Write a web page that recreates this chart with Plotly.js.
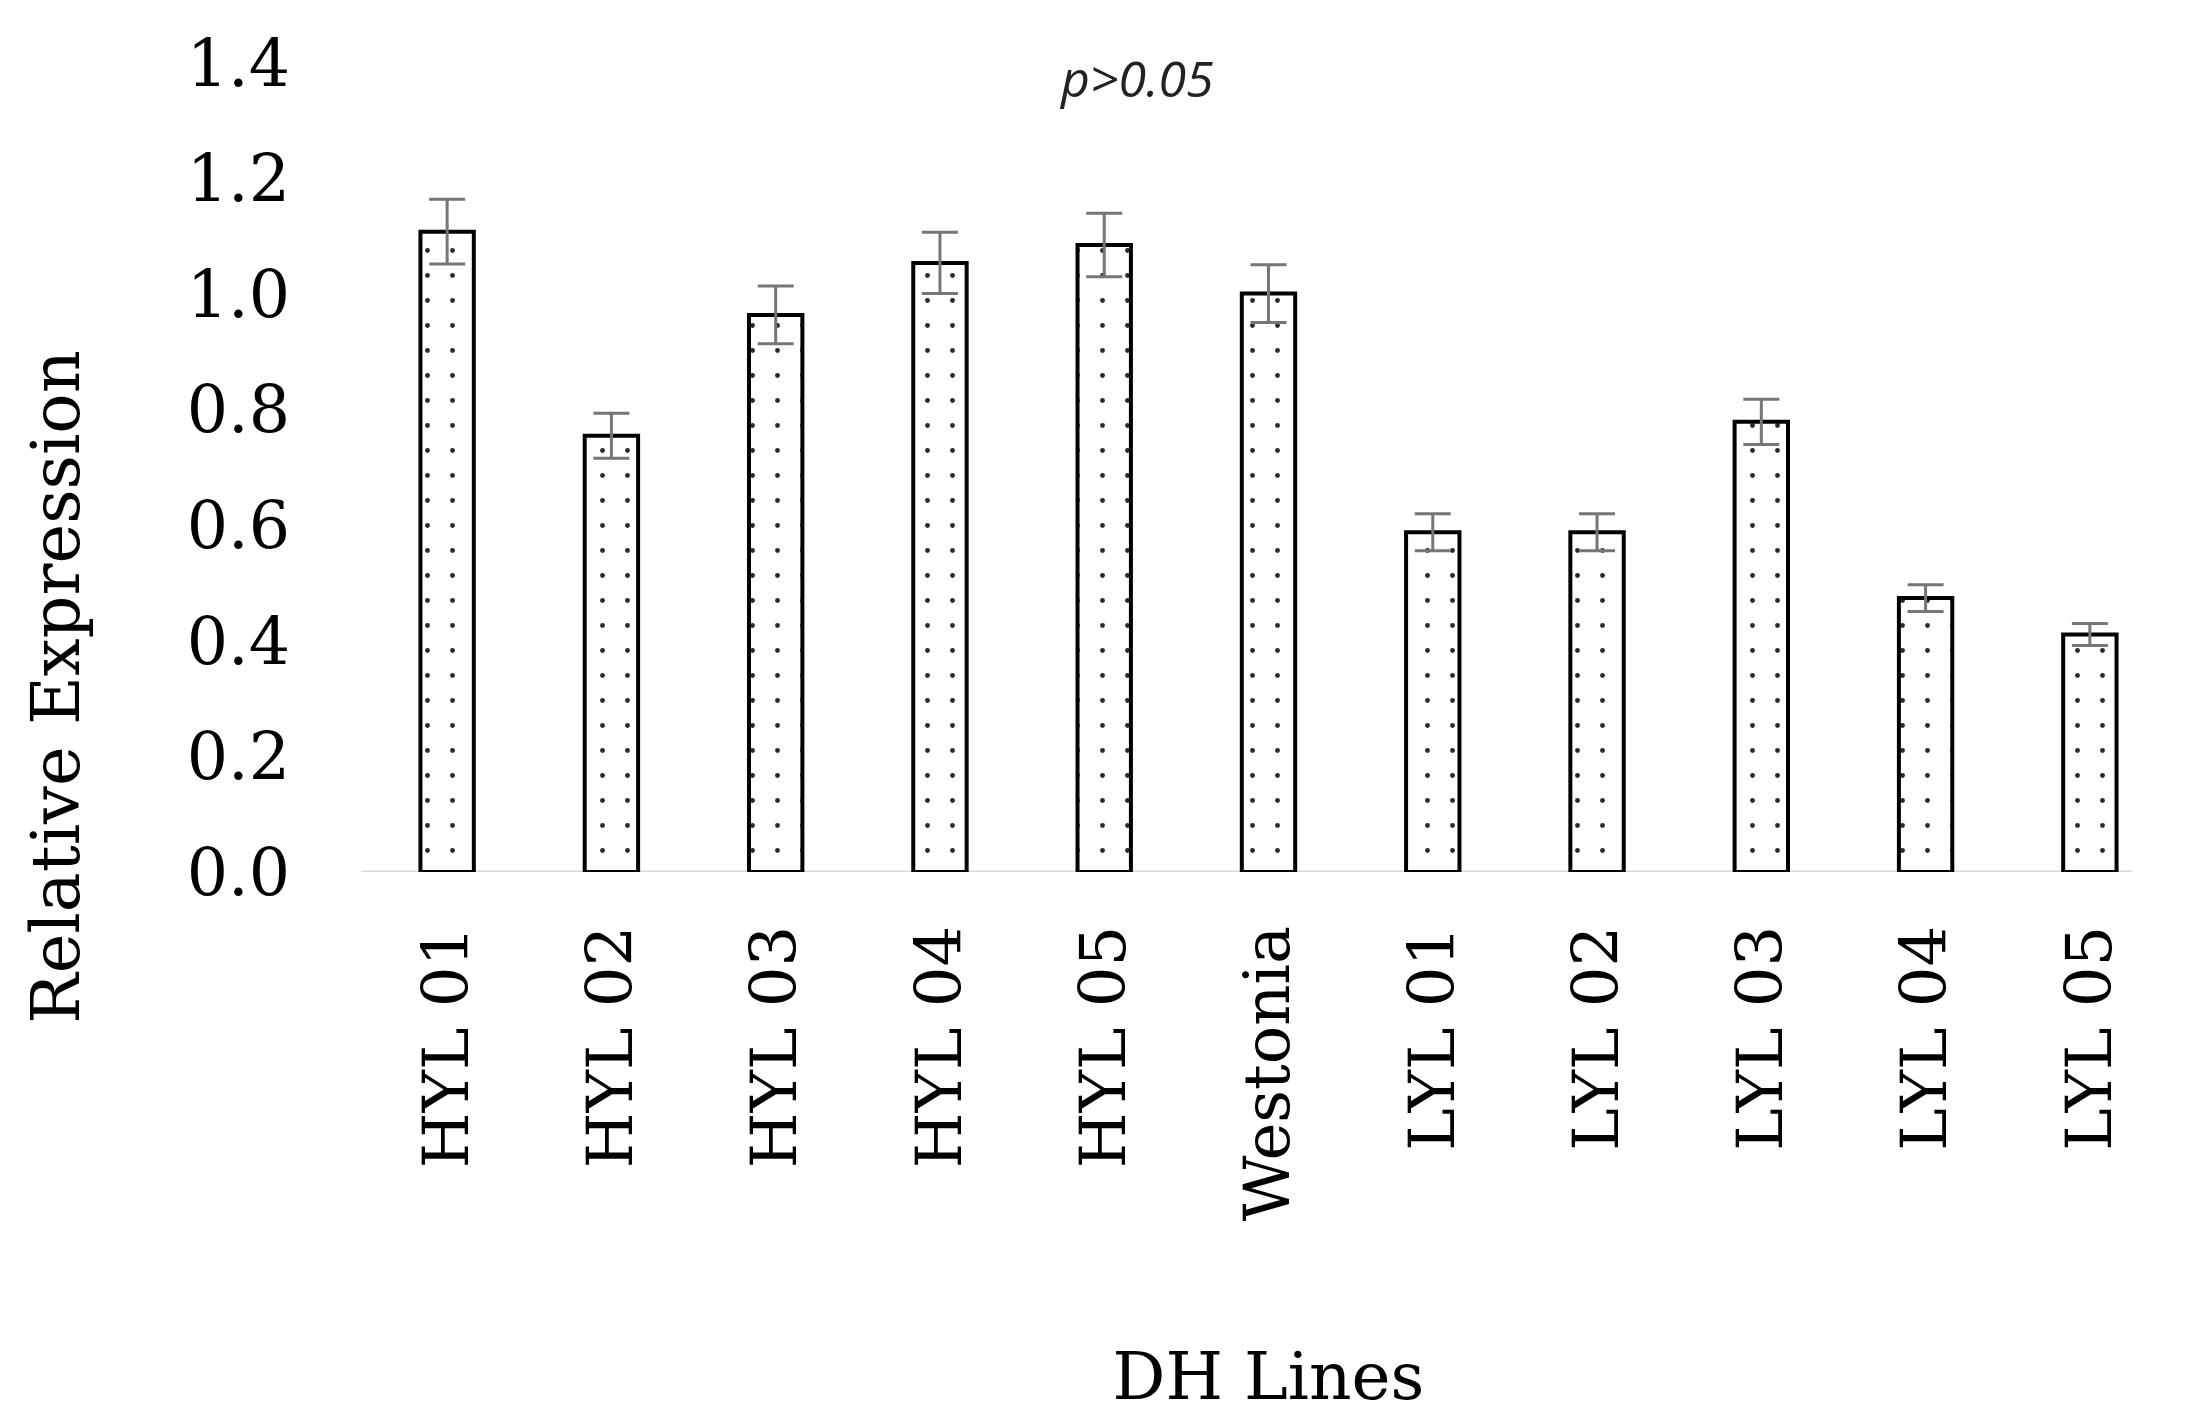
<!DOCTYPE html>
<html>
<head>
<meta charset="utf-8">
<script src="https://cdn.plot.ly/plotly-3.0.1.min.js"></script>
<style>html,body{margin:0;padding:0;background:#fff;}#chart{width:2199px;height:1422px;}</style>
</head>
<body>
<div id="chart"></div>
<script>
// Data
const categories = ["HYL 01", "HYL 02", "HYL 03", "HYL 04", "HYL 05", "Westonia", "LYL 01", "LYL 02", "LYL 03", "LYL 04", "LYL 05"];
const relExpression = [1.108, 0.755, 0.964, 1.054, 1.085, 1.001, 0.588, 0.588, 0.779, 0.474, 0.411];
const errors = [0.056, 0.039, 0.050, 0.053, 0.055, 0.050, 0.032, 0.032, 0.039, 0.023, 0.019];
const yTickVals = [0, 0.2, 0.4, 0.6, 0.8, 1.0, 1.2, 1.4];
const yTickText = ["0.0", "0.2", "0.4", "0.6", "0.8", "1.0", "1.2", "1.4"];
const yTitle = "Relative Expression";
const xTitle = "DH Lines";
const pNote = "p>0.05";

const serif = "DejaVu Serif, Liberation Serif, serif";

const trace = {
  type: "bar",
  x: categories,
  y: relExpression,
  error_y: {type: "data", array: errors, visible: true, color: "#767676", thickness: 3, width: 18},
  marker: {
    color: "#ffffff",
    line: {color: "#000000", width: 4},
    pattern: {shape: ".", fgcolor: "#2a2a2a", bgcolor: "#ffffff", size: 25, solidity: 0.03}
  },
  hoverinfo: "x+y"
};

const layout = {
  width: 2199,
  height: 1422,
  paper_bgcolor: "#ffffff",
  plot_bgcolor: "#ffffff",
  margin: {l: 365, r: 27, t: 63, b: 550, autoexpand: false},
  showlegend: false,
  bargap: 0.675,
  font: {family: serif, color: "#000000"},
  xaxis: {
    type: "category",
    showline: false,
    showgrid: false,
    zeroline: false,
    ticks: "",
    tickangle: -90,
    tickfont: {family: serif, size: 64, color: "#000000"},
    ticklabelstandoff: 40,
    automargin: false,
    title: {text: xTitle, font: {family: serif, size: 66, color: "#000000"}, standoff: 132}
  },
  yaxis: {
    range: [0, 1.4],
    tickvals: yTickVals,
    ticktext: yTickText,
    showgrid: false,
    showline: false,
    zeroline: false,
    ticks: "",
    tickfont: {family: serif, size: 65, color: "#000000"},
    ticklabelstandoff: 74,
    automargin: false
  },
  shapes: [
    {type: "line", xref: "paper", yref: "y", x0: -0.002, x1: 0.978, y0: 0, y1: 0,
     line: {color: "#d9d9d9", width: 3}, layer: "below"}
  ],
  annotations: [
    {
      text: yTitle, textangle: -90, xref: "paper", yref: "paper",
      x: -0.171, y: 0.229, xanchor: "center", yanchor: "middle", showarrow: false,
      font: {family: serif, size: 67, color: "#000000"}
    },
    {
      text: "<i>" + pNote + "</i>", xref: "paper", yref: "paper",
      x: 0.427, y: 0.981, xanchor: "center", yanchor: "middle", showarrow: false,
      font: {family: "Open Sans, DejaVu Sans, sans-serif", size: 50, color: "#222222"}
    }
  ]
};

Plotly.newPlot("chart", [trace], layout, {displayModeBar: false, staticPlot: true});
</script>
</body>
</html>
